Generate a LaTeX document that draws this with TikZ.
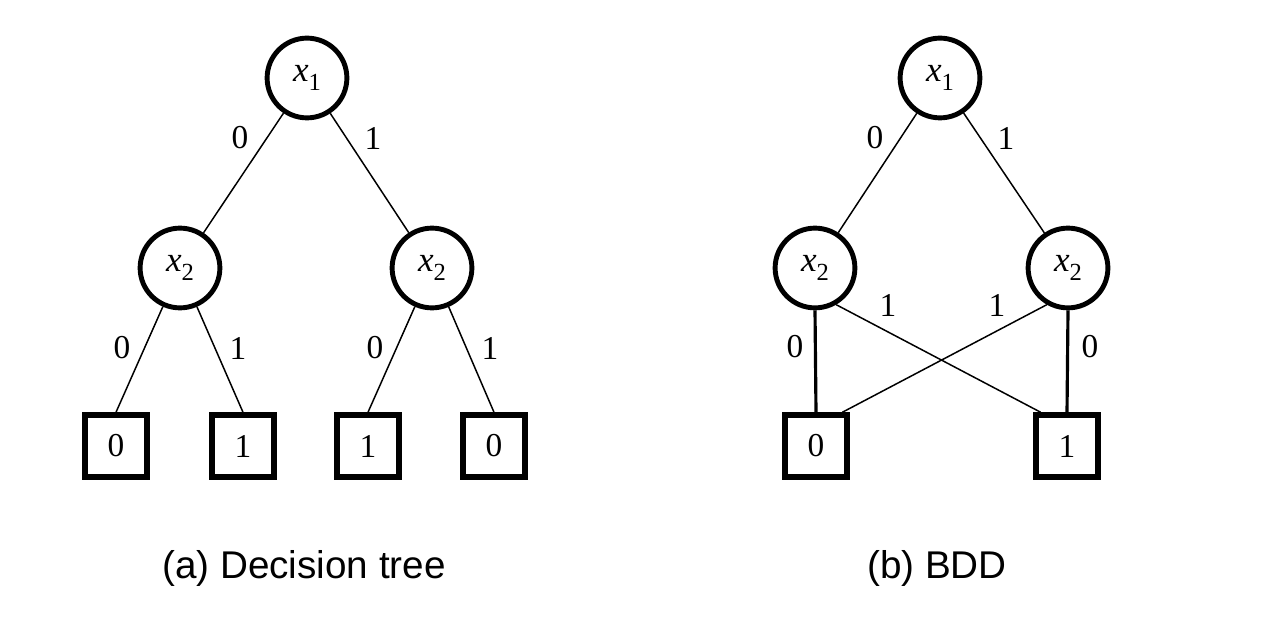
\documentclass[tikz,border=0pt]{standalone}
\usepackage{fontspec}
\setmainfont{Liberation Serif}
\newfontfamily\capfont{Liberation Sans}
\begin{document}
\begin{tikzpicture}[x=0.02cm,y=-0.02cm,
  var/.style={circle,draw,line width=2.8pt,minimum size=45.4pt,inner sep=0pt,font=\fontsize{20}{22}\selectfont},
  leaf/.style={rectangle,draw,line width=3.4pt,minimum size=35pt,inner sep=0pt,font=\fontsize{19}{22}\selectfont},
  edge/.style={line width=0.85pt},
  bedge/.style={line width=1.8pt},
  lab/.style={font=\fontsize{19}{22}\selectfont,inner sep=0pt},
  captext/.style={font=\capfont\fontsize{22}{26}\selectfont,inner sep=0pt}]
\useasboundingbox (0,0) rectangle (1270,634);
\newcommand{\xv}[1]{\textit{x}\raisebox{-5pt}{\fontsize{14}{16}\selectfont #1}}
% (a) decision tree
\node[var] (a1) at (307,78) {\xv{1}};
\node[var] (a2l) at (180,268) {\xv{2}};
\node[var] (a2r) at (432,268) {\xv{2}};
\node[leaf] (l1) at (116,446) {0};
\node[leaf] (l2) at (243,446) {1};
\node[leaf] (l3) at (368,446) {1};
\node[leaf] (l4) at (494,446) {0};
\draw[edge] (a1) -- (a2l);
\draw[edge] (a1) -- (a2r);
\draw[edge] (a2l) -- (l1.north);
\draw[edge] (a2l) -- (l2.north);
\draw[edge] (a2r) -- (l3.north);
\draw[edge] (a2r) -- (l4.north);
\node[lab] (ta0) at (240,138) {0};
\node[lab] (ta1) at (373,138) {1};
\node[lab] (tb0) at (122,348) {0};
\node[lab] (tb1) at (238,348) {1};
\node[lab] (tc0) at (375,348) {0};
\node[lab] (tc1) at (490,348) {1};
\node[captext] (capa) at (304,568) {(a) Decision tree};
% (b) BDD
\node[var] (b1) at (940,78) {\xv{1}};
\node[var] (b2l) at (815,268) {\xv{2}};
\node[var] (b2r) at (1068,268) {\xv{2}};
\node[leaf] (z0) at (816,446) {0};
\node[leaf] (z1) at (1067,446) {1};
\draw[edge] (b1) -- (b2l);
\draw[edge] (b1) -- (b2r);
\draw[bedge] (b2l.south) -- (z0.north);
\draw[bedge] (b2r.south) -- (z1.north);
\draw[edge] (b2l.-60) -- (z1.128);
\draw[edge] (b2r.-120) -- (z0.52);
\node[lab] (ua0) at (875,138) {0};
\node[lab] (ua1) at (1006,138) {1};
\node[lab] (ub1) at (888,305) {1};
\node[lab] (uc1) at (997,305) {1};
\node[lab] (ub0) at (795,347) {0};
\node[lab] (uc0) at (1090,347) {0};
\node[captext] (capb) at (937,568) {(b) BDD};
\end{tikzpicture}
\end{document}
